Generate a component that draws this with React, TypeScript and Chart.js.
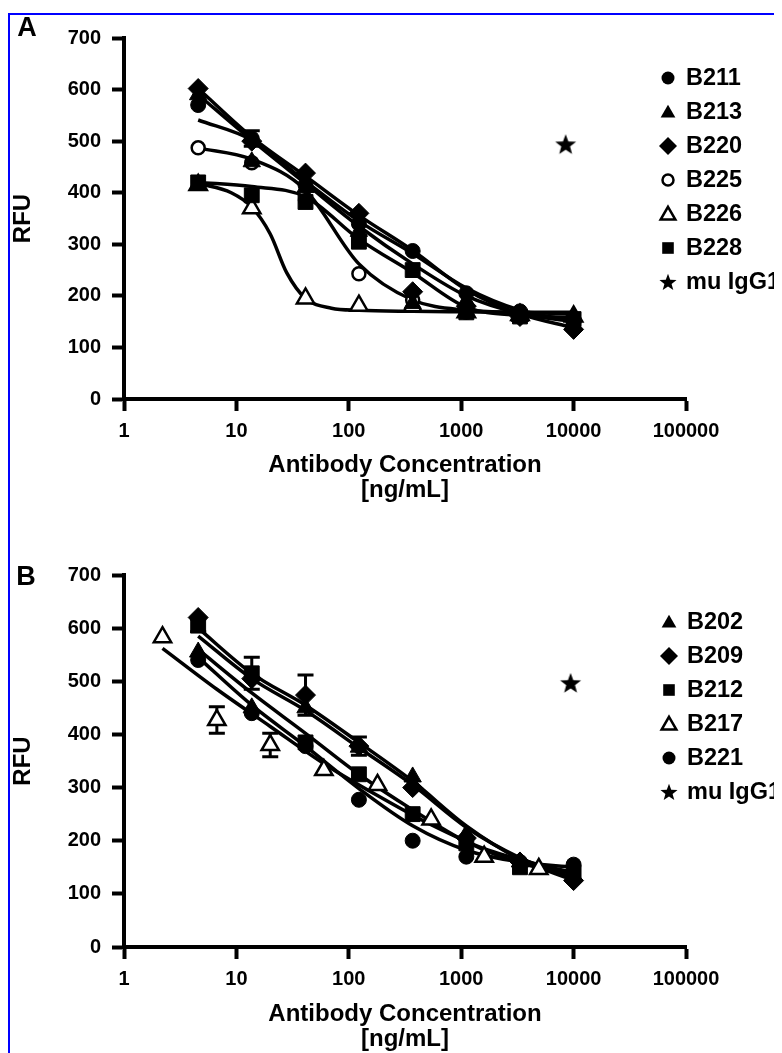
import React, { useEffect, useRef } from 'react';
import { Chart, registerables } from 'chart.js';

Chart.register(...registerables);

const FONT = '"Liberation Sans", Arial, Helvetica, sans-serif';

// ---------- shared axis data ----------
const xTicks = [1, 10, 100, 1000, 10000, 100000];
const yMin = 0;
const yMax = 700;
const yStep = 100;
const xTitle = ['Antibody Concentration', '[ng/mL]'];
const yTitle = 'RFU';
const controlName = 'mu IgG1';

// ---------- Panel A ----------
const concA = [4.57, 13.7, 41.2, 123, 370, 1111, 3333, 10000];
const namesA = ['B211', 'B213', 'B220', 'B225', 'B226', 'B228'];
const a211 = [570, 505, 415, 340, 287, 205, 170, 150];
const a213 = [590, 460, 410, 325, 185, 190, 160, 160];
const a220 = [602, 500, 438, 360, 208, 180, 160, 135];
const a225 = [487, 458, 385, 243, 192, 168, 162, 155];
const a226 = [415, 370, 195, 181, 180, 168, 163, 160];
const a228 = [420, 395, 382, 305, 250, 168, 160, 155];
const errA211 = [0, 15, 0, 0, 0, 0, 0, 0];
const fitA211 = [541, 502, 422, 345, 282, 215, 172, 152];
const fitA213 = [590, 502, 418, 335, 262, 200, 166, 150];
const fitA220 = [602, 508, 432, 356, 288, 212, 165, 138];
const fitA225 = [487, 465, 405, 262, 192, 172, 168, 165];
const fitConcA226 = [4.57, 9, 13.7, 20, 28, 41.2, 70, 123, 370, 1111, 3333, 10000];
const fitA226 = [418, 400, 372, 320, 245, 195, 176, 172, 170, 169, 168, 168];
const fitA228 = [420, 412, 392, 310, 245, 178, 162, 158];
const ctrlConcA = [8500];
const ctrlA = [494];

// ---------- Panel B ----------
const concB = [4.57, 13.7, 41.2, 123, 370, 1111, 3333, 10000];
const namesB = ['B202', 'B209', 'B212', 'B217', 'B221'];
const b202 = [555, 450, 450, 376, 320, 212, 160, 135];
const b209 = [620, 505, 474, 378, 300, 205, 160, 125];
const b212 = [605, 515, 385, 325, 250, 195, 150, 140];
const concB217 = [2.2, 6.7, 20, 60, 180, 540, 1600, 4900];
const b217 = [583, 427, 380, 333, 305, 240, 170, 147];
const b221 = [540, 440, 378, 277, 200, 170, 160, 155];
const errB209 = [0, 0, 38, 17, 0, 0, 0, 0];
const errB212 = [12, 30, 0, 0, 0, 0, 0, 0];
const errB217 = [0, 25, 22, 0, 0, 0, 0, 0];
const fitB202 = [585, 505, 445, 375, 305, 225, 168, 130];
const fitB209 = [600, 515, 455, 385, 312, 228, 165, 125];
const fitB212 = [560, 478, 402, 325, 258, 198, 158, 138];
const fitB221 = [545, 455, 378, 298, 228, 182, 160, 150];
const fitConcB217 = [2.2, 6.7, 20, 60, 180, 540, 1600, 4900, 10000];
const fitB217 = [562, 485, 415, 345, 285, 230, 185, 155, 140];
const ctrlConcB = [9400];
const ctrlB = [497];

// ---------- styles / layout (not data) ----------
type Kind = 'circle' | 'openCircle' | 'triangle' | 'openTriangle' | 'diamond' | 'square' | 'star';

const plotRadius: Record<string, number> = {
  circle: 7.5, openCircle: 6.5, triangle: 10, openTriangle: 10, diamond: 10, square: 10.5,
};
const legendRadius: Record<string, number> = {
  circle: 6.5, openCircle: 5.5, triangle: 8.5, openTriangle: 8.5, diamond: 9, square: 5.8, star: 9,
};
const chartStyle: Record<string, string> = {
  circle: 'circle', openCircle: 'circle', triangle: 'triangle', openTriangle: 'triangle',
  diamond: 'rectRot', square: 'rect',
};

const kindsA: Kind[] = ['circle', 'triangle', 'diamond', 'openCircle', 'openTriangle', 'square'];
const kindsB: Kind[] = ['triangle', 'diamond', 'square', 'openTriangle', 'circle'];

const CANVAS_W = 772;
const PAD_RIGHT = 96;
const Y_SCALE_W = 114;

const LAYOUT_A = { top: 0, height: 500, padTop: 13, padBottom: 12, xScaleH: 104, legendY0: 63, legendStep: 34, legendMarkX: 658, legendTextX: 676, label: 'A', labelX: 17, labelY: 13 };
const LAYOUT_B = { top: 515, height: 523, padTop: 45, padBottom: 1, xScaleH: 105, legendY0: 92, legendStep: 34, legendMarkX: 659, legendTextX: 677, label: 'B', labelX: 16, labelY: 47 };

interface Series {
  name: string; kind: Kind; x: number[]; y: number[]; err?: number[]; fitX: number[]; fitY: number[];
}

const seriesA: Series[] = [
  { name: namesA[0], kind: kindsA[0], x: concA, y: a211, err: errA211, fitX: concA, fitY: fitA211 },
  { name: namesA[1], kind: kindsA[1], x: concA, y: a213, fitX: concA, fitY: fitA213 },
  { name: namesA[2], kind: kindsA[2], x: concA, y: a220, fitX: concA, fitY: fitA220 },
  { name: namesA[3], kind: kindsA[3], x: concA, y: a225, fitX: concA, fitY: fitA225 },
  { name: namesA[4], kind: kindsA[4], x: concA, y: a226, fitX: fitConcA226, fitY: fitA226 },
  { name: namesA[5], kind: kindsA[5], x: concA, y: a228, fitX: concA, fitY: fitA228 },
];

const seriesB: Series[] = [
  { name: namesB[0], kind: kindsB[0], x: concB, y: b202, fitX: concB, fitY: fitB202 },
  { name: namesB[1], kind: kindsB[1], x: concB, y: b209, err: errB209, fitX: concB, fitY: fitB209 },
  { name: namesB[2], kind: kindsB[2], x: concB, y: b212, err: errB212, fitX: concB, fitY: fitB212 },
  { name: namesB[3], kind: kindsB[3], x: concB217, y: b217, err: errB217, fitX: fitConcB217, fitY: fitB217 },
  { name: namesB[4], kind: kindsB[4], x: concB, y: b221, fitX: concB, fitY: fitB221 },
];

function shapePath(ctx: CanvasRenderingContext2D, kind: Kind, x: number, y: number, r: number) {
  ctx.beginPath();
  if (kind === 'circle' || kind === 'openCircle') {
    ctx.arc(x, y, r, 0, Math.PI * 2);
  } else if (kind === 'triangle' || kind === 'openTriangle') {
    for (let i = 0; i < 3; i++) {
      const a = -Math.PI / 2 + (i * 2 * Math.PI) / 3;
      const px = x + r * Math.cos(a);
      const py = y + r * Math.sin(a) + r * 0.15;
      if (i === 0) ctx.moveTo(px, py); else ctx.lineTo(px, py);
    }
    ctx.closePath();
  } else if (kind === 'diamond') {
    ctx.moveTo(x, y - r); ctx.lineTo(x + r, y); ctx.lineTo(x, y + r); ctx.lineTo(x - r, y); ctx.closePath();
  } else if (kind === 'square') {
    ctx.rect(x - r, y - r, 2 * r, 2 * r);
  } else if (kind === 'star') {
    for (let i = 0; i < 10; i++) {
      const a = -Math.PI / 2 + (i * Math.PI) / 5;
      const rr = i % 2 === 0 ? r : r * 0.42;
      const px = x + rr * Math.cos(a);
      const py = y + rr * Math.sin(a) + r * 0.08;
      if (i === 0) ctx.moveTo(px, py); else ctx.lineTo(px, py);
    }
    ctx.closePath();
  }
}

function drawShape(ctx: CanvasRenderingContext2D, kind: Kind, x: number, y: number, r: number) {
  ctx.save();
  shapePath(ctx, kind, x, y, r);
  const open = kind === 'openCircle' || kind === 'openTriangle';
  ctx.fillStyle = open ? '#fff' : '#000';
  ctx.fill();
  if (open) {
    ctx.lineWidth = 2.5;
    ctx.strokeStyle = '#000';
    ctx.stroke();
  }
  ctx.restore();
}

function makeStarImage(r: number): HTMLCanvasElement {
  const c = document.createElement('canvas');
  const s = Math.ceil(r * 2 + 2);
  c.width = s; c.height = s;
  const ctx = c.getContext('2d')!;
  drawShape(ctx, 'star', s / 2, s / 2, r);
  return c;
}

const errorBarPlugin = {
  id: 'errorBars',
  beforeDatasetsDraw(chart: any) {
    const ctx = chart.ctx as CanvasRenderingContext2D;
    const xs = chart.scales.x;
    const ys = chart.scales.y;
    ctx.save();
    ctx.strokeStyle = '#000';
    ctx.lineWidth = 3;
    chart.data.datasets.forEach((ds: any) => {
      if (!ds.errorBars) return;
      ds.data.forEach((pt: any, i: number) => {
        const e = ds.errorBars[i];
        if (!e) return;
        const px = xs.getPixelForValue(pt.x);
        const top = ys.getPixelForValue(pt.y + e);
        const bot = ys.getPixelForValue(pt.y - e);
        ctx.beginPath();
        ctx.moveTo(px, top); ctx.lineTo(px, bot);
        ctx.moveTo(px - 8, top); ctx.lineTo(px + 8, top);
        ctx.moveTo(px - 8, bot); ctx.lineTo(px + 8, bot);
        ctx.stroke();
      });
    });
    ctx.restore();
  },
};

function decorPlugin(L: typeof LAYOUT_A, names: string[], kinds: Kind[]) {
  return {
    id: 'decor' + L.label,
    afterDraw(chart: any) {
      const ctx = chart.ctx as CanvasRenderingContext2D;
      ctx.save();
      ctx.fillStyle = '#000';
      ctx.textBaseline = 'middle';
      ctx.font = `bold 23.5px ${FONT}`;
      ctx.textAlign = 'left';
      names.forEach((n, i) => {
        const y = L.legendY0 + i * L.legendStep;
        drawShape(ctx, kinds[i], L.legendMarkX, y, legendRadius[kinds[i]]);
        ctx.fillStyle = '#000';
        ctx.fillText(n, L.legendTextX, y + 1);
      });
      ctx.font = `bold 27px ${FONT}`;
      ctx.textAlign = 'center';
      ctx.fillText(L.label, L.labelX, L.labelY + 1);
      ctx.restore();
    },
  };
}

function buildConfig(series: Series[], ctrlX: number[], ctrlY: number[], L: typeof LAYOUT_A, star: HTMLCanvasElement): any {
  const markerSets = series.map((s) => {
    const open = s.kind === 'openCircle' || s.kind === 'openTriangle';
    return {
      label: s.name,
      data: s.x.map((x, i) => ({ x, y: s.y[i] })),
      errorBars: s.err,
      showLine: false,
      pointStyle: chartStyle[s.kind],
      pointRadius: plotRadius[s.kind],
      pointBackgroundColor: open ? '#fff' : '#000',
      pointBorderColor: '#000',
      pointBorderWidth: open ? 2.5 : 1,
      order: open ? 1 : 0,
    };
  });
  const fitSets = series.map((s) => ({
    label: s.name + ' fit',
    data: s.fitX.map((x, i) => ({ x, y: s.fitY[i] })),
    showLine: true,
    cubicInterpolationMode: 'monotone',
    borderColor: '#000',
    borderWidth: 3.5,
    pointRadius: 0,
    fill: false,
    order: 2,
  }));
  const ctrlSet = {
    label: controlName,
    data: ctrlX.map((x, i) => ({ x, y: ctrlY[i] })),
    showLine: false,
    pointStyle: star,
    pointRadius: 11,
    order: 0,
  };
  const tickFont = { family: FONT, size: 20, weight: 'bold' };
  const titleFont = { family: FONT, size: 24, weight: 'bold', lineHeight: 1.05 };
  const grid = {
    display: true, drawOnChartArea: false, drawTicks: true, tickLength: 12, tickWidth: 4,
    tickColor: '#000', color: '#000',
  };
  const border = { display: true, color: '#000', width: 4 };
  const kinds = series.map((s) => s.kind).concat(['star' as Kind]);
  const names = series.map((s) => s.name).concat([controlName]);
  return {
    type: 'scatter',
    data: { datasets: [...markerSets, ctrlSet, ...fitSets] },
    options: {
      responsive: false,
      animation: false,
      events: [],
      devicePixelRatio: 1,
      layout: { padding: { left: 0, right: PAD_RIGHT, top: L.padTop, bottom: L.padBottom } },
      plugins: { legend: { display: false }, tooltip: { enabled: false } },
      scales: {
        x: {
          type: 'logarithmic', min: xTicks[0], max: xTicks[xTicks.length - 1], position: 'bottom',
          afterBuildTicks: (s: any) => { s.ticks = xTicks.map((v) => ({ value: v })); },
          afterFit: (s: any) => { s.height = L.xScaleH; },
          ticks: { callback: (v: any) => String(v), font: tickFont, color: '#000', padding: 8, autoSkip: false, maxRotation: 0 },
          grid, border,
          title: { display: true, text: xTitle, font: titleFont, color: '#000', padding: { top: 0, bottom: 0 } },
        },
        y: {
          type: 'linear', min: yMin, max: yMax, position: 'left',
          afterFit: (s: any) => { s.width = Y_SCALE_W; },
          ticks: { stepSize: yStep, font: tickFont, color: '#000', padding: 11 },
          grid, border,
          title: { display: true, text: yTitle, font: titleFont, color: '#000', padding: { top: 1, bottom: 0 } },
        },
      },
    },
    plugins: [errorBarPlugin, decorPlugin(L, names, kinds)],
  };
}

export default function App() {
  const refA = useRef<HTMLCanvasElement>(null);
  const refB = useRef<HTMLCanvasElement>(null);
  useEffect(() => {
    document.documentElement.style.overflow = 'hidden';
    document.body.style.overflow = 'hidden';
    const star = makeStarImage(11);
    const cA = new Chart(refA.current!, buildConfig(seriesA, ctrlConcA, ctrlA, LAYOUT_A, star));
    const cB = new Chart(refB.current!, buildConfig(seriesB, ctrlConcB, ctrlB, LAYOUT_B, star));
    return () => { cA.destroy(); cB.destroy(); };
  }, []);
  return (
    <div style={{ paddingTop: 5 }}>
      <div style={{ position: 'relative', width: CANVAS_W, height: 1040, borderTop: '2px solid #0000ff', borderLeft: '2px solid #0000ff', background: '#fff' }}>
        <canvas ref={refA} width={CANVAS_W} height={LAYOUT_A.height}
          style={{ position: 'absolute', left: 0, top: LAYOUT_A.top, width: CANVAS_W, height: LAYOUT_A.height }} />
        <canvas ref={refB} width={CANVAS_W} height={LAYOUT_B.height}
          style={{ position: 'absolute', left: 0, top: LAYOUT_B.top, width: CANVAS_W, height: LAYOUT_B.height }} />
      </div>
    </div>
  );
}
